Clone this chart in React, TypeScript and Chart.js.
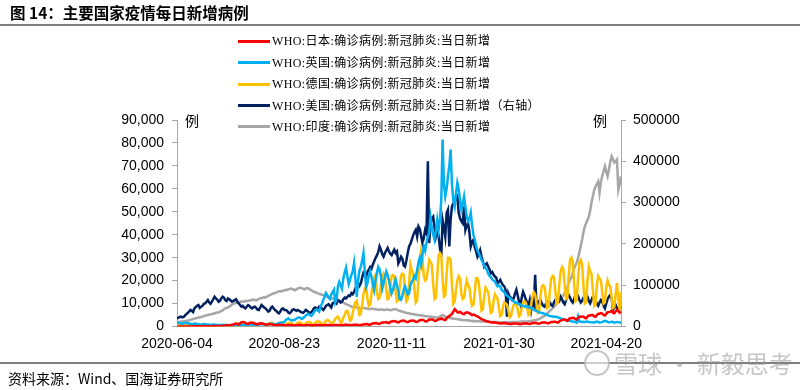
import React, { useEffect, useRef } from 'react';
import { Chart, registerables } from 'chart.js';

Chart.register(...registerables);

// ---- data (daily, values in thousands of cases) ----
const START_DATE = [2020, 5, 4]; // 2020-06-04 (UTC, month 0-based)
const TICK_LABELS = ['2020-06-04', '2020-08-23', '2020-11-11', '2021-01-30', '2021-04-20'];

const SERIES_NAMES = [
  'WHO:日本:确诊病例:新冠肺炎:当日新增',
  'WHO:英国:确诊病例:新冠肺炎:当日新增',
  'WHO:德国:确诊病例:新冠肺炎:当日新增',
  'WHO:美国:确诊病例:新冠肺炎:当日新增（右轴）',
  'WHO:印度:确诊病例:新冠肺炎:当日新增',
];
const SERIES_COLORS = ['#FF0000', '#00B0F0', '#FFC000', '#002060', '#A6A6A6'];
const SERIES_AXES = ['y', 'y', 'y', 'y1', 'y1'];

const JAPAN_K = [
  0.04,0.05,0.05,0.04,0.03,0.05,0.05,
  0.05,0.05,0.06,0.05,0.04,0.06,0.07,
  0.06,0.07,0.09,0.08,0.06,0.08,0.10,
  0.10,0.11,0.13,0.12,0.10,0.14,0.16,
  0.19,0.21,0.25,0.22,0.20,0.24,0.30,
  0.38,0.45,0.55,0.50,0.42,0.60,0.75,
  0.9,1.1,1.3,1.2,0.9,1.4,1.8,
  2.0,1.9,1.6,1.3,1.1,1.5,1.7,
  1.6,1.5,1.3,1.1,0.9,1.2,1.4,
  1.3,1.2,1.1,0.9,0.8,1.0,1.1,
  1.0,0.9,0.8,0.7,0.6,0.7,0.8,
  0.8,0.7,0.6,0.5,0.4,0.6,0.7,
  0.6,0.6,0.5,0.4,0.4,0.5,0.6,
  0.6,0.6,0.5,0.4,0.4,0.5,0.6,
  0.6,0.6,0.5,0.4,0.4,0.5,0.6,
  0.6,0.6,0.5,0.4,0.5,0.6,0.7,
  0.7,0.7,0.6,0.5,0.5,0.6,0.7,
  0.7,0.7,0.6,0.5,0.5,0.6,0.8,
  0.8,0.8,0.7,0.6,0.6,0.7,0.8,
  0.8,0.8,0.7,0.6,0.6,0.8,0.9,
  1.0,1.1,1.0,0.8,0.8,1.1,1.3,
  1.4,1.5,1.4,1.2,1.1,1.5,1.7,
  1.7,1.8,1.9,1.6,1.5,2.0,2.2,
  2.3,2.4,2.2,1.9,1.8,2.1,2.4,
  2.5,2.6,2.3,2.0,1.9,2.2,2.5,
  2.5,2.6,2.4,2.1,2.0,2.4,2.7,
  2.8,2.9,2.7,2.3,2.2,2.6,3.0,
  3.0,3.1,2.9,2.5,2.4,2.8,3.2,
  3.2,3.5,3.3,2.9,2.8,3.6,4.2,
  4.5,5.0,5.5,6.5,7.5,7.0,6.2,
  6.0,6.4,6.0,5.5,5.4,6.0,6.2,
  6.0,5.8,5.4,5.0,5.2,5.0,4.6,
  4.4,4.0,3.6,3.2,3.0,2.8,2.5,
  2.3,2.2,2.0,1.8,1.7,1.8,1.7,
  1.6,1.5,1.4,1.3,1.3,1.4,1.5,
  1.4,1.3,1.2,1.1,1.1,1.2,1.3,
  1.3,1.3,1.2,1.1,1.0,1.2,1.3,
  1.3,1.4,1.3,1.2,1.1,1.3,1.5,
  1.5,1.6,1.5,1.3,1.2,1.5,1.7,
  1.7,1.8,1.7,1.4,1.4,1.7,2.0,
  2.0,2.1,2.1,1.8,1.7,2.2,2.6,
  2.8,3.0,3.1,2.7,2.5,3.2,3.6,
  3.6,3.8,3.7,3.2,3.0,3.8,4.3,
  4.3,4.4,4.3,3.8,3.6,4.3,4.8,
  4.8,5.0,5.0,4.4,4.2,5.0,5.6,
  5.6,5.8,5.6,5.0,4.8,5.5,6.2,
  6.3,6.5,6.8,6.0,5.8,6.6,7.2,
  6.8,6.0,6.5,
];

const UK_K = [
  1.8,1.6,1.5,1.3,1.2,1.4,1.7,
  1.5,1.4,1.3,1.2,1.0,1.1,1.3,
  1.2,1.1,1.0,0.9,0.8,0.9,1.1,
  1.0,0.9,0.9,0.8,0.7,0.8,0.9,
  0.8,0.8,0.7,0.6,0.6,0.7,0.8,
  0.7,0.7,0.6,0.6,0.5,0.6,0.7,
  0.7,0.7,0.6,0.6,0.5,0.7,0.8,
  0.8,0.8,0.7,0.7,0.6,0.8,0.9,
  0.9,0.9,0.8,0.8,0.7,0.9,1.0,
  1.0,1.1,0.9,0.9,0.8,1.0,1.2,
  1.2,1.2,1.0,1.0,0.9,1.2,1.4,
  1.6,1.8,1.7,2.0,2.8,3.2,3.5,
  3.0,2.9,2.6,2.8,2.9,3.5,3.8,
  4.0,3.8,3.3,3.6,4.2,4.8,5.2,
  5.5,5.0,4.6,5.0,6.2,7.0,7.4,
  7.0,6.5,8.7,9.8,11.5,13.0,14.6,
  13.8,12.5,12.0,14.0,15.0,16.0,10.5,
  12.0,17.5,19.5,18.0,16.5,21.0,23.5,
  25.6,22.0,18.5,20.3,22.5,24.0,27.7,
  21.0,12.9,20.0,24.5,26.0,28.5,32.0,
  24.0,17.3,19.0,22.0,24.0,21.7,19.0,
  16.0,20.0,23.0,26.0,25.0,22.0,16.5,
  19.0,21.5,24.0,22.5,20.0,17.0,14.5,
  16.0,18.5,20.5,18.0,15.5,12.0,11.6,
  13.5,16.0,17.5,16.0,14.0,14.5,18.0,
  19.5,20.5,22.0,21.0,24.5,28.0,30.0,
  27.0,31.5,34.9,33.0,36.5,39.0,41.0,
  47.4,43.0,40.0,37.8,41.5,46.5,42.0,
  46.5,55.0,81.5,62.0,56.7,60.0,65.5,
  70.0,77.1,62.0,55.0,52.4,58.0,62.7,
  60.0,55.0,51.0,53.5,56.7,52.0,48.0,
  45.8,47.0,49.6,44.0,40.0,37.8,35.0,
  33.0,32.0,30.5,29.0,28.0,26.5,25.5,
  24.7,23.0,22.0,21.5,20.5,20.0,19.6,
  18.5,17.5,18.0,17.4,16.0,15.5,15.0,
  14.0,13.5,13.0,12.5,12.0,11.5,11.0,
  10.5,10.5,10.0,9.8,9.5,9.2,9.0,
  8.8,9.0,8.5,8.7,8.4,8.0,7.6,
  7.2,7.0,6.8,6.5,6.2,6.0,5.9,
  5.8,5.5,5.3,5.0,4.8,4.6,4.5,
  4.4,4.3,4.3,4.3,4.0,3.8,3.5,
  3.3,3.0,2.9,2.8,2.6,2.5,2.4,
  2.3,2.2,2.1,1.9,1.7,4.3,2.2,
  2.1,2.0,2.1,2.0,2.1,2.2,2.0,
  1.9,1.8,1.8,1.7,2.0,2.2,2.0,
  1.7,1.8,1.9,2.2,2.5,2.3,2.0,
  1.8,1.9,2.1,2.0,1.7,1.8,2.0,
  1.9,1.7,1.7,
];

const GERMANY_K = [
  0.5,0.5,0.4,0.2,0.2,0.3,0.4,
  0.6,0.6,0.4,0.2,0.2,0.4,0.5,
  0.5,0.5,0.4,0.2,0.2,0.3,0.5,
  0.4,0.4,0.3,0.2,0.2,0.3,0.4,
  0.6,0.6,0.4,0.2,0.2,0.4,0.6,
  0.7,0.7,0.5,0.3,0.3,0.5,0.7,
  0.8,0.8,0.6,0.3,0.3,0.6,0.8,
  0.9,0.9,0.7,0.4,0.4,0.7,0.9,
  1.0,1.1,0.8,0.4,0.4,0.8,1.2,
  1.3,1.4,1.0,0.5,0.5,1.0,1.4,
  1.6,1.5,1.1,0.6,0.6,1.2,1.5,
  1.7,1.6,1.2,0.7,0.7,1.3,1.5,
  1.5,1.5,1.1,0.6,0.6,1.2,1.6,
  1.8,1.7,1.3,0.7,0.7,1.4,1.9,
  2.0,2.0,1.5,0.8,0.8,1.6,2.1,
  2.2,2.2,1.7,1.0,1.0,1.8,2.4,
  2.8,2.7,2.1,1.2,1.2,2.3,3.3,
  4.0,4.2,3.2,1.6,1.8,3.8,5.0,
  6.6,6.8,5.0,2.5,3.0,6.0,8.5,
  10.5,11.2,8.0,5.0,5.5,9.5,14.0,
  16.5,17.5,12.0,9.0,9.5,14.0,19.5,
  21.5,22.5,15.0,12.0,12.5,18.0,21.0,
  23.0,22.0,16.0,12.0,12.5,17.5,22.0,
  22.5,21.5,15.0,11.0,11.5,17.0,22.0,
  23.0,22.5,15.5,11.0,12.0,18.5,27.0,
  24.5,23.5,16.0,10.5,11.5,20.0,28.0,
  33.0,30.0,22.0,20.0,20.5,25.0,29.0,
  28.0,27.0,18.0,12.0,12.5,22.0,31.0,
  32.0,31.0,21.0,13.0,13.5,23.0,30.0,
  30.0,29.0,18.0,10.0,11.0,16.0,20.0,
  22.0,21.0,14.0,12.0,12.5,17.0,20.0,
  18.0,17.0,12.0,9.0,9.5,15.0,21.0,
  21.0,19.0,13.0,7.0,7.5,13.0,17.0,
  16.0,15.0,10.0,6.0,6.5,11.0,14.0,
  13.0,12.0,8.0,4.5,5.0,8.5,10.5,
  10.0,9.5,7.0,4.0,4.5,7.5,9.5,
  10.0,9.5,7.5,4.5,5.0,8.0,10.5,
  11.0,10.5,8.0,5.0,5.5,9.5,13.0,
  15.0,14.0,10.0,6.0,6.5,13.5,17.5,
  18.0,17.5,12.5,8.0,8.5,16.0,21.0,
  22.0,21.5,16.0,10.0,10.5,18.0,24.0,
  26.0,25.0,18.0,12.0,12.5,22.0,29.0,
  30.0,28.5,19.0,11.0,11.5,21.0,28.0,
  29.0,27.0,18.0,10.0,10.5,20.0,26.0,
  24.0,23.0,16.0,9.0,9.5,18.0,22.0,
  21.0,20.0,15.0,10.0,10.5,17.0,20.0,
  18.0,17.5,12.5,8.0,8.5,14.0,19.0,
  12.0,7.0,15.0,
];

const US_K = [
  20,21,23,24,22,23,27,
  30,33,36,40,38,35,44,
  47,50,52,45,48,50,55,
  56,60,64,58,55,60,66,
  72,68,65,60,62,68,72,
  70,64,62,68,66,63,60,
  62,64,66,60,56,52,48,
  50,46,44,48,52,50,46,
  44,47,48,45,41,40,46,
  52,49,46,44,40,36,38,
  45,48,44,40,38,34,32,
  36,42,44,40,40,38,34,
  32,35,40,42,40,38,40,
  38,36,34,33,36,40,38,
  35,33,34,38,44,46,44,
  42,48,46,44,40,44,50,
  52,54,50,46,56,58,60,
  56,64,62,58,60,66,70,
  68,72,75,74,81,78,84,
  92,100,105,98,104,118,130,
  126,120,132,138,144,140,150,
  158,166,172,180,194,186,175,
  169,178,184,190,182,176,173,
  180,186,178,182,153,160,169,
  164,148,145,160,178,194,200,
  210,220,228,234,218,242,236,
  220,202,215,234,226,400,202,
  250,262,266,240,218,234,220,
  190,169,258,240,218,275,283,
  194,260,291,298,303,310,315,
  275,262,255,250,291,234,245,
  250,228,194,205,210,192,182,
  169,176,185,170,158,145,150,
  153,145,138,129,132,125,121,
  118,105,108,113,106,100,97,
  88,24,80,72,70,64,68,
  80,89,75,60,52,70,84,
  76,66,58,50,64,40,60,
  52,125,48,56,62,64,56,
  50,48,55,60,62,58,52,
  50,58,64,68,66,62,72,
  66,58,54,64,72,76,70,
  62,58,66,76,79,74,64,
  58,62,70,74,78,72,62,
  56,64,72,70,64,54,50,
  58,64,60,50,44,56,66,
  72,76,68,40,46,52,44,
  40,46,44,
];

const INDIA_K = [
  10,11,11,12,12,12,13,
  14,14,15,16,17,18,19,
  20,21,22,22,23,24,25,
  26,27,28,29,29,30,31,
  32,33,34,34,36,37,39,
  42,44,45,46,48,50,53,
  55,56,57,58,57,59,61,
  60,60,62,61,62,63,64,
  64,65,64,63,65,67,68,
  69,70,71,70,72,74,76,
  77,79,80,81,82,84,85,
  86,85,87,88,88,89,90,
  91,92,91,89,88,90,92,
  93,94,93,91,90,92,93,
  92,90,88,86,84,83,82,
  80,79,78,77,76,75,74,
  72,71,70,69,68,66,65,
  64,63,62,61,60,58,56,
  54,53,52,50,48,48,47,
  47,46,46,45,44,45,45,
  44,44,43,43,42,43,43,
  42,42,41,41,40,41,41,
  40,40,41,41,40,40,40,
  41,42,42,41,39,38,37,
  36,35,34,33,32,32,31,
  30,30,29,29,28,28,27,
  27,26,26,25,25,24,24,
  24,23,23,22,22,22,23,
  24,26,28,26,24,22,21,
  21,20,20,19,19,18,18,
  17,17,16,16,15,15,15,
  15,14,14,14,13,13,13,
  13,13,12,12,12,12,12,
  12,11,11,11,11,11,11,
  11,11,10,10,10,10,10,
  10,10,10,10,11,11,11,
  11,11,11,11,12,12,12,
  12,12,12,13,13,14,14,
  15,15,16,17,18,20,22,
  24,26,29,32,35,38,41,
  44,47,51,55,58,62,66,
  71,76,81,87,95,105,115,
  118,130,140,148,155,166,180,
  195,210,228,242,250,258,266,
  280,300,315,330,339,345,351,
  324,350,364,376,388,375,364,
  380,398,412,405,397,400,404,
  331,345,364,
];

const SERIES_K = [JAPAN_K, UK_K, GERMANY_K, US_K, INDIA_K];

const FONT_SANS = '"Liberation Sans", Arial, "Noto Sans CJK SC", sans-serif';
const FONT_CJK = '"Noto Sans CJK SC", "Liberation Sans", sans-serif';
const AXIS_COLOR = '#a6a6a6';

function makeLabels(n: number): string[] {
  const out: string[] = [];
  for (let i = 0; i < n; i++) {
    const d = new Date(Date.UTC(START_DATE[0], START_DATE[1], START_DATE[2] + i));
    out.push(d.toISOString().slice(0, 10));
  }
  return out;
}

export default function App() {
  const ref = useRef<HTMLCanvasElement>(null);

  useEffect(() => {
    const labels = makeLabels(JAPAN_K.length);
    const chart = new Chart(ref.current as HTMLCanvasElement, {
      type: 'line',
      data: {
        labels,
        datasets: SERIES_K.map((arr, i) => ({
          label: SERIES_NAMES[i],
          data: arr.map((v) => v * 1000),
          borderColor: SERIES_COLORS[i],
          backgroundColor: SERIES_COLORS[i],
          yAxisID: SERIES_AXES[i],
          borderWidth: 2.5,
          pointRadius: 0,
          tension: 0,
          fill: false,
        })),
      },
      options: {
        animation: false,
        responsive: false,
        maintainAspectRatio: false,
        layout: { padding: { top: 120, left: 0, right: 0, bottom: 0 } },
        plugins: { legend: { display: false }, tooltip: { enabled: false }, title: { display: false } },
        scales: {
          x: {
            type: 'category',
            offset: false,
            grid: { display: false, drawTicks: false },
            border: { display: true, color: AXIS_COLOR, width: 1 },
            ticks: {
              autoSkip: false,
              maxRotation: 0,
              minRotation: 0,
              padding: 9,
              color: '#000',
              font: { family: FONT_SANS, size: 14 },
              callback: (_v: any, idx: number) => (TICK_LABELS.includes(labels[idx]) ? labels[idx] : null),
            },
            afterFit: (s: any) => { s.height = 63.5; },
          },
          y: {
            position: 'left',
            min: 0,
            max: 90000,
            grid: { drawOnChartArea: false, drawTicks: true, tickLength: 5, color: AXIS_COLOR },
            border: { display: true, color: AXIS_COLOR, width: 1 },
            ticks: {
              stepSize: 10000,
              padding: 8,
              color: '#000',
              font: { family: FONT_SANS, size: 14 },
              callback: (v: any) => Number(v).toLocaleString('en-US'),
            },
            afterFit: (s: any) => { s.width = 177; },
          },
          y1: {
            position: 'right',
            min: 0,
            max: 500000,
            grid: { drawOnChartArea: false, drawTicks: true, tickLength: 5, color: AXIS_COLOR },
            border: { display: true, color: AXIS_COLOR, width: 1 },
            ticks: {
              stepSize: 100000,
              padding: 7,
              color: '#000',
              font: { family: FONT_SANS, size: 14 },
              callback: (v: any) => String(v),
            },
            afterFit: (s: any) => { s.width = 179; },
          },
        },
      },
    });
    return () => chart.destroy();
  }, []);

  const legendTops = [41.3, 62.7, 84.1, 105.5, 126.9];

  return (
    <div style={{ position: 'fixed', left: 0, top: 0, width: 800, height: 390, background: '#fff', overflow: 'hidden' }}>
      <canvas ref={ref} width={800} height={390} style={{ position: 'absolute', left: 0, top: 0, width: 800, height: 390, display: 'block' }} />
      <div style={{ position: 'absolute', left: 10, top: 0, lineHeight: '24px', fontSize: 15.5, fontWeight: 700, fontFamily: FONT_CJK, color: '#000', whiteSpace: 'nowrap' }}>
        图 14：主要国家疫情每日新增病例
      </div>
      <div style={{ position: 'absolute', left: 0, top: 24, width: 800, height: 2, background: '#7f7f7f' }} />
      {SERIES_NAMES.map((name, i) => (
        <div key={name} style={{ position: 'absolute', left: 238, top: legendTops[i] - 8, height: 16, display: 'flex', alignItems: 'center', whiteSpace: 'nowrap' }}>
          <div style={{ width: 32, height: 3, background: SERIES_COLORS[i], marginRight: 2 }} />
          <span style={{ fontSize: 12, lineHeight: '16px', letterSpacing: '0.4px', fontFamily: '"Liberation Serif", "Noto Sans CJK SC", serif', color: '#000' }}>{name}</span>
        </div>
      ))}
      <div style={{ position: 'absolute', left: 185, top: 112, fontSize: 14, lineHeight: '16px', fontFamily: FONT_CJK, color: '#000' }}>例</div>
      <div style={{ position: 'absolute', left: 593, top: 112, fontSize: 14, lineHeight: '16px', fontFamily: FONT_CJK, color: '#000' }}>例</div>
      <div style={{ position: 'absolute', left: 0, top: 362, width: 800, height: 1.5, background: '#7f7f7f' }} />
      <div style={{ position: 'absolute', left: 584, top: 350, display: 'flex', alignItems: 'center', color: 'rgba(150,150,150,0.55)', whiteSpace: 'nowrap' }}>
        <div style={{ width: 22, height: 22, borderRadius: '50%', border: '2px solid rgba(150,150,150,0.55)', marginRight: 4, background: 'rgba(255,255,255,0.6)' }} />
        <span style={{ fontSize: 24, lineHeight: '26px', fontFamily: FONT_CJK }}>雪球 · 新毅思考</span>
      </div>
      <div style={{ position: 'absolute', left: 8, top: 370, fontSize: 14, lineHeight: '16px', fontFamily: FONT_CJK, color: '#000', whiteSpace: 'nowrap' }}>
        资料来源：Wind、国海证券研究所
      </div>
    </div>
  );
}
